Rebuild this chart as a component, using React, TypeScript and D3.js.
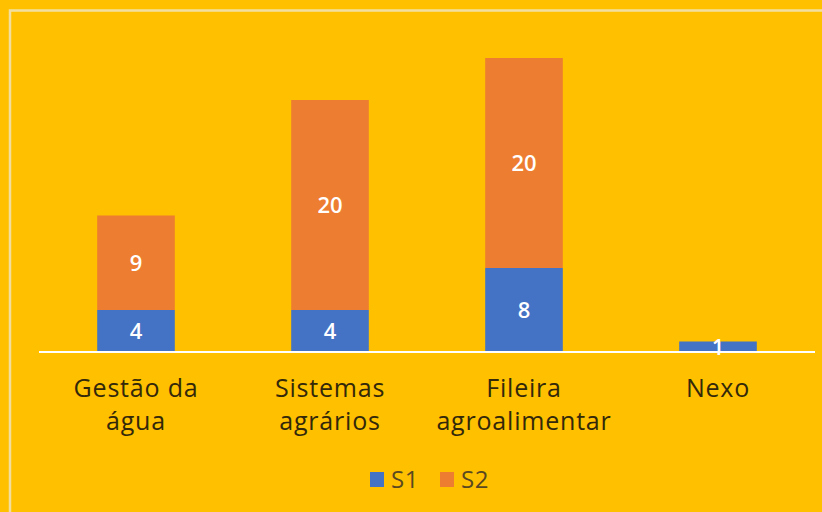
import React from "react";
import * as d3 from "d3";

const categories: string[][] = [["Gestão da", "água"], ["Sistemas", "agrários"], ["Fileira", "agroalimentar"], ["Nexo"]];
const s1: number[] = [4, 4, 8, 1];
const s2: number[] = [9, 20, 20, 0];
const seriesNames = ["S1", "S2"];
const colors = ["#4472C4", "#ED7D31"];

export default function App() {
  const W = 822, H = 512;
  const left = 39, right = 815, baseY = 352;
  const x = d3.scaleBand<number>().domain(d3.range(categories.length)).range([left, right]).paddingInner(0.6).paddingOuter(0.3);
  const y = d3.scaleLinear().domain([0, 28]).range([baseY, 58]);
  const font = "'Open Sans', Lato, sans-serif";
  const textColor = "#33290a";
  const stacked = categories.map((_, i) => [
    { y0: 0, y1: s1[i], v: s1[i], c: colors[0] },
    { y0: s1[i], y1: s1[i] + s2[i], v: s2[i], c: colors[1] },
  ]);
  return (
    <svg width={W} height={H} style={{ position: "fixed", left: 0, top: 0 }}>
      <rect x={0} y={0} width={W} height={H} fill="#FFC000" />
      <path d={`M10,${H} L10,10.5 L${W},10.5`} fill="none" stroke="#F2DFA0" strokeWidth={2.5} />
      {stacked.map((segs, i) =>
        segs.map((s, j) =>
          s.v > 0 ? (
            <rect key={`${i}-${j}`} x={x(i)} y={y(s.y1)} width={x.bandwidth()} height={y(s.y0) - y(s.y1)} fill={s.c} />
          ) : null
        )
      )}
      <line x1={left} x2={right} y1={baseY} y2={baseY} stroke="#FFFFFF" strokeWidth={2} />
      {stacked.map((segs, i) =>
        segs.map((s, j) =>
          s.v > 0 ? (
            <text key={`t${i}-${j}`} x={(x(i) as number) + x.bandwidth() / 2} y={(y(s.y0) + y(s.y1)) / 2 + 8}
              textAnchor="middle" fill="#FFFFFF" fontFamily={font} fontSize={22} fontWeight={600}>{s.v}</text>
          ) : null
        )
      )}
      {categories.map((lines, i) => (
        <text key={`c${i}`} x={(x(i) as number) + x.bandwidth() / 2} y={397} textAnchor="middle"
          fill={textColor} fontFamily={font} fontSize={25} letterSpacing={0.8}>
          {lines.map((l, k) => (
            <tspan key={k} x={(x(i) as number) + x.bandwidth() / 2} dy={k === 0 ? 0 : 33}>{l}</tspan>
          ))}
        </text>
      ))}
      {seriesNames.map((n, k) => {
        const lx = 370 + k * 70;
        return (
          <g key={n}>
            <rect x={lx} y={472} width={14} height={15} fill={colors[k]} />
            <text x={lx + 21} y={488} fill="#5a4820" fontFamily={font} fontSize={24} letterSpacing={0.5}>{n}</text>
          </g>
        );
      })}
    </svg>
  );
}
